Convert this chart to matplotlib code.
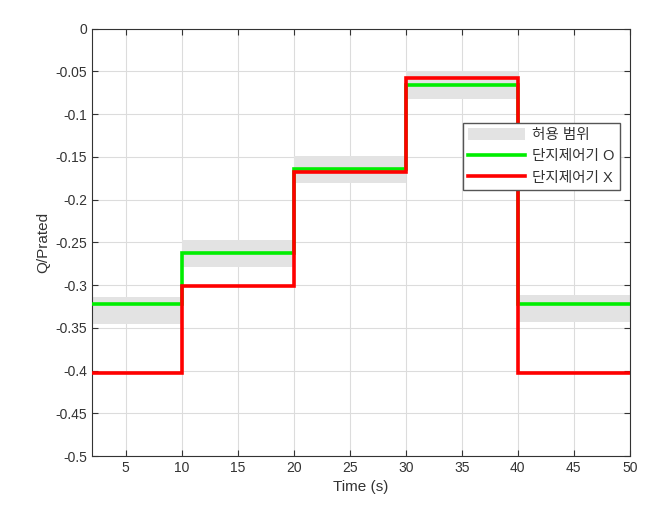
import matplotlib
matplotlib.use("Agg")
import matplotlib.pyplot as plt
from matplotlib.patches import Patch
from matplotlib.lines import Line2D

plt.rcParams['font.family'] = ['Liberation Sans', 'Noto Sans CJK KR', 'DejaVu Sans']

# step boundaries (s) and levels for each interval
t_edges = [2, 10, 20, 30, 40, 50]
band_low = [-0.345, -0.279, -0.181, -0.082, -0.343]
band_high = [-0.314, -0.247, -0.149, -0.050, -0.312]
q_with_ctrl = [-0.322, -0.263, -0.164, -0.066, -0.322]
q_without_ctrl = [-0.403, -0.301, -0.168, -0.058, -0.403]

x_ticks = [5, 10, 15, 20, 25, 30, 35, 40, 45, 50]
y_ticks = [0, -0.05, -0.1, -0.15, -0.2, -0.25, -0.3, -0.35, -0.4, -0.45, -0.5]
y_labels = ['0', '-0.05', '-0.1', '-0.15', '-0.2', '-0.25', '-0.3', '-0.35', '-0.4', '-0.45', '-0.5']

txt = '#333333'
fig = plt.figure(figsize=(6.65, 5.26), dpi=100)
ax = fig.add_axes([0.1383, 0.133, 0.8087, 0.8128])

# allowed range bands
for i in range(len(band_low)):
    ax.fill_between([t_edges[i], t_edges[i + 1]], band_low[i], band_high[i],
                    color='#e3e3e3', lw=0, zorder=1)

# step lines
ax.stairs(q_with_ctrl, t_edges, baseline=None, color='#00ee00', lw=2.6, zorder=3)
ax.stairs(q_without_ctrl, t_edges, baseline=None, color='#ff0000', lw=2.6, zorder=4)

ax.set_xlim(2, 50)
ax.set_ylim(-0.5, 0)
ax.set_xticks(x_ticks)
ax.set_yticks(y_ticks)
ax.set_yticklabels(y_labels)
ax.grid(True, color='#dcdcdc', lw=0.8)
ax.set_axisbelow(True)
ax.tick_params(direction='in', top=True, right=True, length=4, width=0.8,
               labelsize=10, colors=txt, labelcolor=txt)
for s in ax.spines.values():
    s.set_color(txt)
    s.set_linewidth(0.8)

ax.set_xlabel('Time (s)', fontsize=11, color=txt)
ax.set_ylabel('Q/Prated', fontsize=11, color=txt)

handles = [Patch(facecolor='#e3e3e3', edgecolor='none'),
           Line2D([], [], color='#00ee00', lw=2.6),
           Line2D([], [], color='#ff0000', lw=2.6)]
labels = ['허용 범위', '단지제어기 O', '단지제어기 X']
leg = ax.legend(handles, labels, loc='upper left', bbox_to_anchor=(0.69, 0.78),
                fontsize=10.5, frameon=True, fancybox=False, framealpha=1,
                edgecolor='#555555', handlelength=3.9, handleheight=0.9,
                handletextpad=0.5, borderpad=0.35, labelspacing=0.5,
                borderaxespad=0)
leg.get_frame().set_linewidth(1.0)
for t in leg.get_texts():
    t.set_color(txt)

fig.savefig('out.png', dpi=100)
